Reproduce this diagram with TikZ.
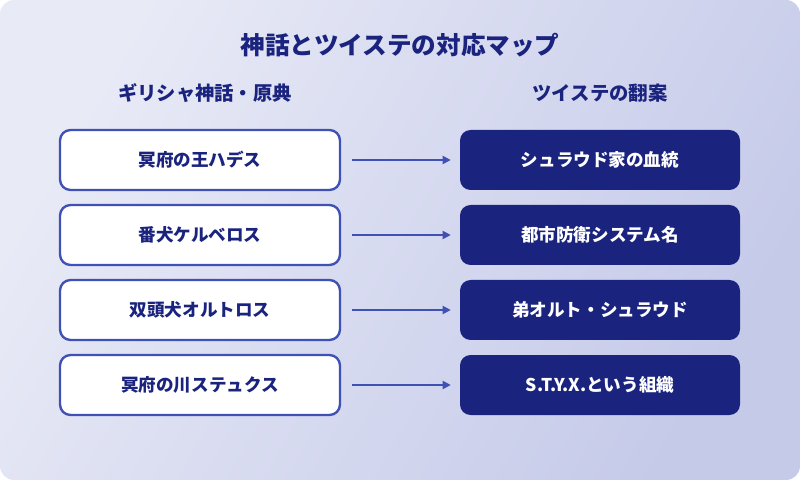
\documentclass[tikz,border=0pt]{standalone}
\usepackage{fontspec}
\setmainfont{Noto Sans CJK JP}
\usetikzlibrary{arrows.meta}
\usetikzlibrary{positioning}
\definecolor{navy}{HTML}{1A237E}
\definecolor{indigo}{HTML}{3F51B5}
\definecolor{bgtop}{HTML}{E8EAF6}
\definecolor{bgbot}{HTML}{C5CAE9}
\tikzset{
  myth/.style={draw=indigo,line width=2pt,fill=white,rounded corners=9pt,
    minimum width=280*0.03cm,minimum height=60*0.03cm,text=navy,
    font=\bfseries\fontsize{15}{17}\selectfont},
  twst/.style={fill=navy,rounded corners=9pt,
    minimum width=280*0.03cm,minimum height=60*0.03cm,text=white,
    font=\bfseries\fontsize{15}{17}\selectfont},
  head/.style={text=navy,font=\bfseries\fontsize{16.5}{19}\selectfont},
  link/.style={draw=indigo,line width=1.5pt,-{Triangle[length=7pt,width=7pt]}},
}
\begin{document}
\begin{tikzpicture}[x=0.03cm,y=-0.03cm]
  \useasboundingbox (0,0) rectangle (800,480);
  \shade[left color=bgtop,right color=bgbot,shading angle=60,rounded corners=12pt]
    (0,0) rectangle (800,480);
  \node[text=navy,font=\bfseries\fontsize{21}{24}\selectfont] (title) at (400,45)
    {神話とツイステの対応マップ};
  \node[head] (lhead) at (205,93) {ギリシャ神話・原典};
  \node[head] (rhead) at (600,93) {ツイステの翻案};
  \foreach \i/\a/\b in {1/冥府の王ハデス/シュラウド家の血統,
                        2/番犬ケルベロス/都市防衛システム名,
                        3/双頭犬オルトロス/弟オルト・シュラウド,
                        4/冥府の川ステュクス/S.T.Y.X.という組織} {
    \node[myth] (m\i) at (200,85+75*\i) {\a};
    \node[twst] (t\i) at (600,85+75*\i) {\b};
    \draw[link,shorten <=11*0.03cm,shorten >=9*0.03cm] (m\i) -- (t\i);
  }
\end{tikzpicture}
\end{document}
